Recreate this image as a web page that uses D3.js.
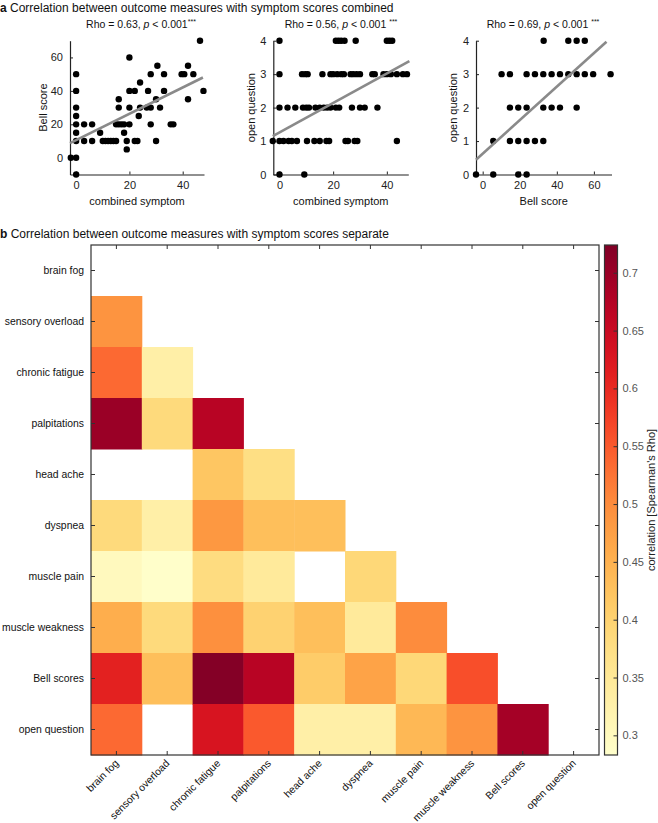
<!DOCTYPE html>
<html><head><meta charset="utf-8">
<script src="https://cdn.jsdelivr.net/npm/d3@7"></script>
<style>
body{margin:0;background:#fff;}
svg{display:block;font-family:"Liberation Sans",Arial,Helvetica,sans-serif;}
</style></head><body>
<svg id="chart" width="658" height="823"></svg>
<script>
// ---------- DATA ----------
// panel a, plot 1: combined symptom vs Bell score
const p1Combined = [-2,0,0,0,0,0,0,0,0,0, 3,3,6,6,9,10,11,12,13,14,15, 15,16,16,16,17,18,18,19,19, 20,20,20,20, 22,22,23,23.5,24,24, 27,26.5,28,28,28, 30.5,30,30,31.5, 33,33, 35.5,36.5, 39.6,40.6,42,42,44, 46.5,47.8];
const p1Bell     = [0,0,-10,50,40,30,25,20,15,10, 20,10,20,10,15,10,10,10,10,10,10, 20,35,30,20,20,20,15,10,5, 60,40,30,20, 40,10,10,25,30,45, 40,30,30,20,50, 55,35,10,30, 50,40, 20,20, 50,50,55,35,50, 70,40];
// panel a, plot 2: combined symptom vs open question
const p2Combined = [0,21,22,23,24.25,28.4,40,41,42,
  0,8.4,9.6,10.5,16,19,20,21.5,23,24,26.5,27.5,28.75,30,34.6,35.5,38.75,40,41.5,43.75,46,47.5,
  0,3,5.9,8.75,10,11,13.4,15,16.5,17.75,19,21,22.25,27,30,31.75,36.5,
  -2.5,0,1.5,3.4,4.6,6.5,10.25,13,15,17.5,18.5,24.6,25.5,28,29,43.75,
  0,9.25];
const p2Open = [4,4,4,4,4,4,4,4,4,
  3,3,3,3,3,3,3,3,3,3,3,3,3,3,3,3,3,3,3,3,3,3,
  2,2,2,2,2,2,2,2,2,2,2,2,2,2,2,2,2,
  1,1,1,1,1,1,1,1,1,1,1,1,1,1,1,1,
  0,0];
// panel a, plot 3: Bell score vs open question
const p3Bell = [32.9,46.2,50.7,55.1,
  10.2,14.7,23.7,28.2,32.7,37.2,41.7,46.2,50.7,55.1,59.6,69,
  14.7,19.2,23.7,32.7,37.2,41.7,50.7,
  5.7,14.7,19.2,23.7,28.2,32.7,
  -3.6,5.7,19.2,23.7];
const p3Open = [4,4,4,4,
  3,3,3,3,3,3,3,3,3,3,3,3,
  2,2,2,2,2,2,2,
  1,1,1,1,1,1,
  0,0,0,0];
// regression lines: [intercept, slope, xStart, xEnd]
const p1Fit = [10.6, 0.786, -2.3, 47.6];
const p2Fit = [1.26, 0.044, -2.5, 48.4];
const p3Fit = [0.62, 0.0501, -3.6, 66.8];
const rhoValues = ["0.63", "0.56", "0.69"];
const pText = "0.001";

// panel b
const measures = ["brain fog","sensory overload","chronic fatigue","palpitations","head ache","dyspnea","muscle pain","muscle weakness","Bell scores","open question"];
// lower triangle rows (null = not shown)
const corrRows = [
  [],
  [0.49],
  [0.535,0.33],
  [0.70,0.385,0.67],
  [null,null,0.42,0.375],
  [0.385,0.33,0.485,0.43,0.43],
  [0.30,0.285,0.38,0.345,null,0.39],
  [0.455,0.385,0.495,0.40,0.43,0.345,0.50],
  [0.61,0.43,0.72,0.67,0.41,0.47,0.39,0.56],
  [0.535,null,0.63,0.55,0.33,0.33,0.44,0.49,0.69]
];
const cbarTicks = [0.3,0.35,0.4,0.45,0.5,0.55,0.6,0.65,0.7];
const cbarDomain = [0.283, 0.724];

// ---------- DRAW ----------
const svg = d3.select("#chart");
const FONT = 11;
const HFONT = 10.4;

// Panel titles
function panelTitle(x, y, letter, text){
  const t = svg.append("text").attr("x", x).attr("y", y).attr("font-size", 12).attr("fill","#111");
  t.append("tspan").attr("font-weight","bold").text(letter);
  t.append("tspan").text(" " + text);
}
panelTitle(0, 12, "a", "Correlation between outcome measures with symptom scores combined");
panelTitle(0, 238, "b", "Correlation between outcome measures with symptom scores separate");

function scatter(cfg){
  const x = d3.scaleLinear().domain(cfg.xDomain).range(cfg.xRange);
  const y = d3.scaleLinear().domain(cfg.yDomain).range(cfg.yRange);
  const g = svg.append("g");
  const xa = g.append("g").attr("transform", `translate(0,${cfg.yRange[0]})`)
    .call(d3.axisBottom(x).tickValues(cfg.xTicks).tickSizeInner(-3).tickSizeOuter(0).tickPadding(7).tickFormat(d3.format("d")));
  const ya = g.append("g").attr("transform", `translate(${cfg.xRange[0]},0)`)
    .call(d3.axisLeft(y).tickValues(cfg.yTicks).tickSizeInner(-3).tickSizeOuter(0).tickPadding(7).tickFormat(d3.format("d")));
  [xa, ya].forEach(a => {
    a.selectAll("path").attr("stroke","#222").attr("stroke-width",1.2);
    a.selectAll("line").attr("stroke","#222");
    a.selectAll("text").attr("font-size", FONT).attr("fill","#222").attr("font-family", null);
  });
  g.selectAll("circle").data(cfg.xs.map((v,i)=>[v, cfg.ys[i]])).join("circle")
    .attr("cx", d => x(d[0])).attr("cy", d => y(d[1])).attr("r", 3.2).attr("fill","#000");
  const f = cfg.fit;
  g.append("line")
    .attr("x1", x(f[2])).attr("y1", y(f[0] + f[1]*f[2]))
    .attr("x2", x(f[3])).attr("y2", y(f[0] + f[1]*f[3]))
    .attr("stroke","#8a8a8a").attr("stroke-width",2.6);
  // title
  const t = g.append("text").attr("x", cfg.titleX).attr("y", 28).attr("text-anchor","middle").attr("font-size", 10.5).attr("fill","#111");
  t.append("tspan").text(`Rho = ${cfg.rho}, `);
  t.append("tspan").attr("font-style","italic").text("p");
  t.append("tspan").text(" < " + pText + (cfg.space ? " " : ""));
  t.append("tspan").attr("font-size", 7).attr("dy", -4).text("***");
  // axis labels
  g.append("text").attr("x", (cfg.xRange[0]+cfg.xRange[1])/2).attr("y", 205).attr("text-anchor","middle")
    .attr("font-size", FONT).attr("fill","#111").text(cfg.xLabel);
  g.append("text").attr("transform", `translate(${cfg.yLabelX},${(cfg.yRange[0]+cfg.yRange[1])/2}) rotate(-90)`)
    .attr("text-anchor","middle").attr("font-size", FONT).attr("fill","#111").text(cfg.yLabel);
}

scatter({xs:p1Combined, ys:p1Bell, xDomain:[-2.3,48], yDomain:[-10,70], xRange:[70,204], yRange:[174.5,40.7],
  xTicks:[0,20,40], yTicks:[0,20,40,60], fit:p1Fit, rho:rhoValues[0], titleX:141, space:false,
  xLabel:"combined symptom", yLabel:"Bell score", yLabelX:47});
scatter({xs:p2Combined, ys:p2Open, xDomain:[-2.3,48], yDomain:[0,4], xRange:[273.3,408.3], yRange:[174.5,40.7],
  xTicks:[0,20,40], yTicks:[0,1,2,3,4], fit:p2Fit, rho:rhoValues[1], titleX:341, space:true,
  xLabel:"combined symptom", yLabel:"open question", yLabelX:255});
scatter({xs:p3Bell, ys:p3Open, xDomain:[-3.6,69.5], yDomain:[0,4], xRange:[476,611.5], yRange:[174.5,40.7],
  xTicks:[0,20,40,60], yTicks:[0,1,2,3,4], fit:p3Fit, rho:rhoValues[2], titleX:543, space:true,
  xLabel:"Bell score", yLabel:"open question", yLabelX:457});

// ---------- Heatmap ----------
const hm = {x0:91, x1:599, y0:245, y1:755};
const xb = d3.scaleBand().domain(measures).range([hm.x0, hm.x1]);
const yb = d3.scaleBand().domain(measures).range([hm.y0, hm.y1]);
const color = d3.scaleSequential(d3.interpolateYlOrRd).domain(cbarDomain);

const cells = [];
corrRows.forEach((row, ri) => row.forEach((v, ci) => { if (v !== null) cells.push({r:measures[ri], c:measures[ci], v}); }));
const hg = svg.append("g");
hg.selectAll("rect").data(cells).join("rect")
  .attr("x", d => xb(d.c)).attr("y", d => yb(d.r))
  .attr("width", xb.bandwidth()+0.5).attr("height", yb.bandwidth()+0.5)
  .attr("fill", d => color(d.v));

function styleAxis(a){
  a.selectAll("path").remove();
  a.selectAll("line").attr("stroke","#333");
}
const axL = hg.append("g").attr("transform",`translate(${hm.x0},0)`).call(d3.axisLeft(yb).tickSizeInner(-4).tickSizeOuter(0).tickPadding(7));
styleAxis(axL);
axL.selectAll("text").attr("font-size", HFONT).attr("fill","#111").attr("font-family", null);
const axR = hg.append("g").attr("transform",`translate(${hm.x1},0)`).call(d3.axisRight(yb).tickSizeInner(-4).tickSizeOuter(0).tickFormat(""));
styleAxis(axR);
const axT = hg.append("g").attr("transform",`translate(0,${hm.y0})`).call(d3.axisTop(xb).tickSizeInner(-4).tickSizeOuter(0).tickFormat(""));
styleAxis(axT);
const axB = hg.append("g").attr("transform",`translate(0,${hm.y1})`).call(d3.axisBottom(xb).tickSizeInner(-4).tickSizeOuter(0).tickFormat(""));
styleAxis(axB);
hg.append("g").selectAll("text").data(measures).join("text")
  .attr("transform", d => `translate(${xb(d)+xb.bandwidth()/2+3},${hm.y1+9}) rotate(-45)`)
  .attr("text-anchor","end").attr("font-size", HFONT).attr("fill","#111").text(d => d);
hg.append("rect").attr("x",hm.x0).attr("y",hm.y0).attr("width",hm.x1-hm.x0).attr("height",hm.y1-hm.y0)
  .attr("fill","none").attr("stroke","#333").attr("stroke-width",1.2);

// ---------- Colorbar ----------
const cb = {x:604.5, w:13, y0:245, y1:755};
const cy = d3.scaleLinear().domain(cbarDomain).range([cb.y1, cb.y0]);
const defs = svg.append("defs");
const grad = defs.append("linearGradient").attr("id","cbg").attr("x1",0).attr("y1",1).attr("x2",0).attr("y2",0);
d3.range(0, 1.0001, 0.05).forEach(t => {
  grad.append("stop").attr("offset", t).attr("stop-color", color(cbarDomain[0] + t*(cbarDomain[1]-cbarDomain[0])));
});
const cg = svg.append("g");
cg.append("rect").attr("x",cb.x).attr("y",cb.y0).attr("width",cb.w).attr("height",cb.y1-cb.y0).attr("fill","url(#cbg)");
const cax = cg.append("g").attr("transform",`translate(${cb.x+cb.w},0)`)
  .call(d3.axisRight(cy).tickValues(cbarTicks).tickSizeInner(-4).tickSizeOuter(0).tickPadding(5).tickFormat(d3.format("")));
cax.selectAll("path").remove();
cax.selectAll("line").attr("stroke","#333");
cax.selectAll("text").attr("font-size", FONT).attr("fill","#555").attr("font-family", null);
cg.append("rect").attr("x",cb.x).attr("y",cb.y0).attr("width",cb.w).attr("height",cb.y1-cb.y0)
  .attr("fill","none").attr("stroke","#333").attr("stroke-width",1.2);
cg.append("text").attr("transform",`translate(655,${(cb.y0+cb.y1)/2}) rotate(-90)`)
  .attr("text-anchor","middle").attr("font-size", FONT).attr("fill","#222").text("correlation [Spearman's Rho]");
</script>
</body></html>
